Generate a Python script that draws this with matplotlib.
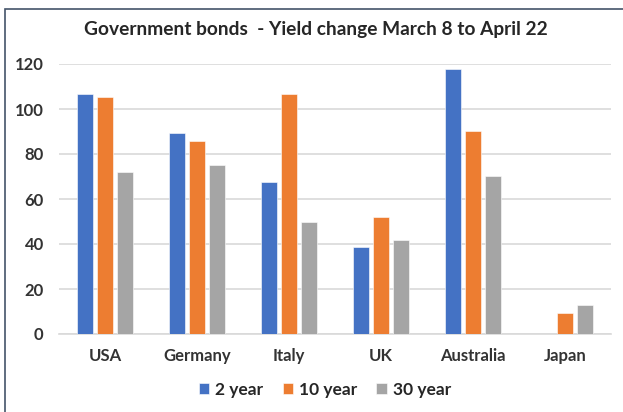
import numpy as np
import matplotlib
matplotlib.use('Agg')
import matplotlib.pyplot as plt
from matplotlib.patches import Rectangle

# Data
countries = ['USA', 'Germany', 'Italy', 'UK', 'Australia', 'Japan']
two_year = [106.7, 89.3, 67.7, 38.8, 117.8, 0]
ten_year = [105.2, 86.0, 106.7, 51.9, 90.1, 9.2]
thirty_year = [71.9, 75.0, 49.9, 41.8, 70.4, 12.9]
series_names = ['2 year', '10 year', '30 year']
colors = ['#4472C4', '#ED7D31', '#A5A5A5']

plt.rcParams['font.family'] = ['Lato', 'DejaVu Sans']

fig = plt.figure(figsize=(6.23, 4.12), dpi=100)
ax = fig.add_axes([59 / 623, 1 - 334 / 412, 552 / 623, 270 / 412])

x = np.arange(len(countries))
width = 0.17
offset = 0.217
for i, (vals, name, c) in enumerate(zip([two_year, ten_year, thirty_year], series_names, colors)):
    ax.bar(x + (i - 1) * offset, vals, width, color=c, label=name,
           edgecolor='white', linewidth=0.4, zorder=3)

ax.set_xlim(-0.5, len(countries) - 0.5)
ax.set_ylim(0, 120)
ax.set_yticks(range(0, 121, 20))
ax.yaxis.grid(True, color='#D9D9D9', linewidth=1.2, zorder=0)
for s in ['top', 'right', 'left']:
    ax.spines[s].set_visible(False)
ax.spines['bottom'].set_color('#D9D9D9')
ax.spines['bottom'].set_linewidth(1.2)
ax.tick_params(length=0, colors='#333333', labelsize=12)
ax.tick_params(axis='x', pad=10)
ax.tick_params(axis='y', pad=11)
ax.set_xticks(x)
ax.set_xticklabels(countries)
for lab in ax.get_xticklabels() + ax.get_yticklabels():
    lab.set_fontweight('bold')

fig.text(0.507, 1 - 30 / 412, 'Government bonds  - Yield change March 8 to April 22',
         ha='center', va='center', fontsize=13.8, fontweight='bold', color='#262626')

ax.legend(loc='center', bbox_to_anchor=(325 / 623, 1 - 390 / 412), bbox_transform=fig.transFigure,
          ncol=3, frameon=False, handlelength=0.6, handleheight=0.6,
          handletextpad=0.35, columnspacing=1.1, labelcolor='#262626',
          prop={'weight': 'bold', 'size': 12.5})

# thin frame around the chart area
fig.patches.append(Rectangle((5 / 623, -0.01), 1.0, 1 - 9 / 412 + 0.01,
                             transform=fig.transFigure, fill=False,
                             edgecolor='#44546A', linewidth=1.2))

fig.savefig('out.png', dpi=100)
